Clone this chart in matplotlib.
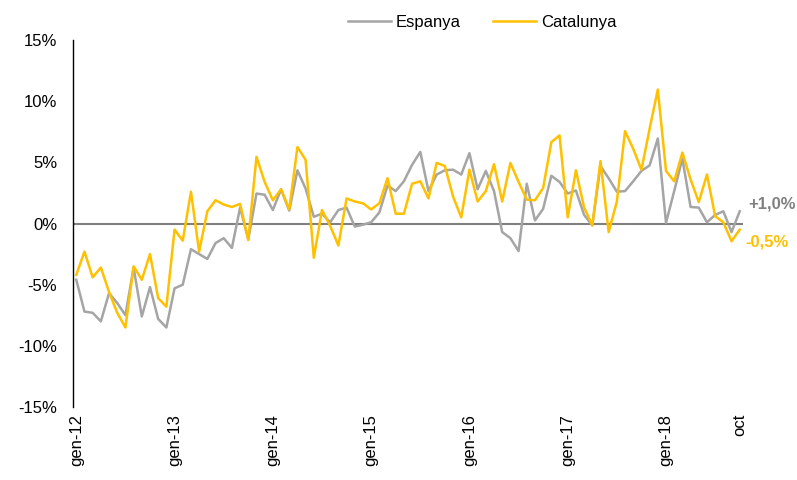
import matplotlib
matplotlib.use("Agg")
import matplotlib.pyplot as plt
from matplotlib.ticker import FuncFormatter

plt.rcParams['font.family'] = ['Liberation Sans', 'DejaVu Sans']

# mensual, gen-12 ... oct-18 (variació interanual, %)
espanya = [-4.6, -7.2, -7.3, -8.0, -5.7, -6.5, -7.5, -3.6, -7.6, -5.2, -7.8, -8.5,
           -5.3, -5.0, -2.1, -2.5, -2.9, -1.6, -1.2, -2.0, 1.3, -1.3, 2.45, 2.35,
           1.1, 2.8, 1.05, 4.35, 2.85, 0.55, 0.8, 0.1, 1.1, 1.3, -0.25, -0.1,
           0.1, 0.9, 3.1, 2.65, 3.45, 4.8, 5.85, 2.65, 4.0, 4.35, 4.4, 4.0,
           5.75, 2.8, 4.3, 2.65, -0.7, -1.2, -2.25, 3.25, 0.25, 1.2, 3.9, 3.4,
           2.45, 2.7, 0.7, -0.15, 4.7, 3.7, 2.6, 2.65, 3.45, 4.3, 4.75, 6.95,
           0.05, 2.65, 5.3, 1.35, 1.3, 0.1, 0.7, 1.0, -0.7, 1.0]
catalunya = [-4.2, -2.3, -4.4, -3.6, -5.6, -7.3, -8.5, -3.5, -4.6, -2.5, -6.1, -6.8,
             -0.5, -1.4, 2.6, -2.3, 1.0, 1.9, 1.55, 1.35, 1.6, -1.35, 5.45, 3.4,
             1.9, 2.8, 1.15, 6.25, 5.2, -2.8, 1.1, -0.2, -1.8, 2.05, 1.8, 1.65,
             1.15, 1.65, 3.7, 0.8, 0.8, 3.25, 3.45, 2.05, 4.95, 4.7, 2.2, 0.5,
             4.4, 1.8, 2.65, 4.85, 1.8, 4.95, 3.4, 1.95, 1.9, 2.9, 6.65, 7.2,
             0.5, 4.35, 1.3, -0.15, 5.1, -0.7, 1.8, 7.55, 6.1, 4.4, 7.75, 10.95,
             4.3, 3.45, 5.8, 3.6, 1.75, 4.0, 0.6, 0.1, -1.45, -0.5]
tick_pos = [0, 12, 24, 36, 48, 60, 72, 81]
tick_labels = ["gen-12", "gen-13", "gen-14", "gen-15", "gen-16", "gen-17", "gen-18", "oct"]
last_esp = "+1,0%"
last_cat = "-0,5%"

gris = "#A5A5A5"
groc = "#FFC000"

fig = plt.figure(figsize=(7.97, 4.8), dpi=100)
ax = fig.add_axes([73 / 797, 1 - 407 / 480, 670 / 797, 367 / 480])

x = list(range(len(espanya)))
ax.axhline(0, color="#808080", lw=1.5, zorder=1)
ax.plot(x, espanya, color=gris, lw=1.8, label="Espanya", zorder=2)
ax.plot(x, catalunya, color=groc, lw=1.8, label="Catalunya", zorder=3)

ax.set_xlim(-0.4, 81.4)
ax.set_ylim(-15, 15)
ax.set_yticks([-15, -10, -5, 0, 5, 10, 15])
ax.yaxis.set_major_formatter(FuncFormatter(lambda v, p: "%d%%" % v))
ax.set_xticks(tick_pos)
ax.set_xticklabels(tick_labels, rotation=90)
ax.tick_params(axis="x", length=0, pad=5, labelsize=12)
ax.tick_params(axis="y", length=0, pad=11.5, labelsize=12)

for s in ["top", "right", "bottom"]:
    ax.spines[s].set_visible(False)
ax.spines["left"].set_color("black")
ax.spines["left"].set_linewidth(1)

ax.text(x[-1] + 1.0, espanya[-1] + 0.6, last_esp, color="#808080",
        fontsize=12, fontweight="bold", va="center", ha="left", clip_on=False)
ax.text(x[-1] + 0.7, catalunya[-1] - 1.05, last_cat, color=groc,
        fontsize=12, fontweight="bold", va="center", ha="left", clip_on=False)

fig.legend(loc="center", bbox_to_anchor=(482 / 797, 1 - 22 / 480), ncol=2,
           frameon=False, fontsize=12, handlelength=2.6, handletextpad=0.3,
           columnspacing=1.9)

fig.savefig("out.png", dpi=100)
